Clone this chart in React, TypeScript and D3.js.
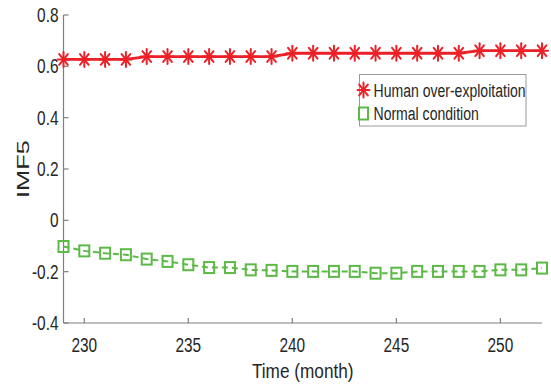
import React from "react";
import * as d3 from "d3";

// IMF5 component, months 229..252
const months = d3.range(229, 253);
const humanOverExploitation = [
  0.627, 0.627, 0.627, 0.627, 0.638, 0.638, 0.638, 0.638, 0.638, 0.638, 0.638,
  0.651, 0.651, 0.651, 0.651, 0.651, 0.651, 0.651, 0.651, 0.651, 0.661, 0.661,
  0.661, 0.661,
];
const normalCondition = [
  -0.102, -0.119, -0.128, -0.134, -0.151, -0.16, -0.173, -0.184, -0.184, -0.193,
  -0.195, -0.199, -0.199, -0.199, -0.199, -0.206, -0.206, -0.199, -0.199, -0.199,
  -0.199, -0.193, -0.193, -0.186,
];
const xTicks = [230, 235, 240, 245, 250];
const yTicks = [-0.4, -0.2, 0, 0.2, 0.4, 0.6, 0.8];
const seriesNames = ["Human over-exploitation", "Normal condition"];

const RED = "#ec2027";
const GREEN = "#5cb946";
const AXIS = "#7f7f7f";
const TEXT = "#262626";
const FONT = "'Liberation Sans', Arial, sans-serif";

const W = 551;
const H = 387;
const margin = { top: 15, right: 9, bottom: 64, left: 63.5 };

// the source picture is stretched vertically, so text is drawn narrow
const Txt = ({ x, y, size, sx, anchor, rotate = 0, children }: any) => (
  <g transform={`translate(${x},${y}) rotate(${rotate}) scale(${sx},1)`}>
    <text textAnchor={anchor} fontSize={size} fill={TEXT}>
      {children}
    </text>
  </g>
);

const Star = ({ x, y }: { x: number; y: number }) => {
  const rx = 6;
  const ry = 7.5;
  const dx = rx * 0.72;
  const dy = ry * 0.72;
  return (
    <g stroke={RED} strokeWidth={2} strokeLinecap="round">
      <line x1={x} y1={y - ry} x2={x} y2={y + ry} />
      <line x1={x - rx} y1={y} x2={x + rx} y2={y} />
      <line x1={x - dx} y1={y - dy} x2={x + dx} y2={y + dy} />
      <line x1={x - dx} y1={y + dy} x2={x + dx} y2={y - dy} />
    </g>
  );
};

const Square = ({ x, y }: { x: number; y: number }) => (
  <rect x={x - 5} y={y - 5.5} width={10} height={11} fill="none" stroke={GREEN} strokeWidth={2} />
);

export default function App() {
  const w = W - margin.left - margin.right;
  const h = H - margin.top - margin.bottom;

  const x = d3.scaleLinear().domain([229, 252]).range([0, w]);
  const y = d3.scaleLinear().domain([-0.4, 0.8]).range([h, 0]);

  const line = d3
    .line<number>()
    .x((_, i) => x(months[i]))
    .y((d) => y(d));

  return (
    <svg width={W} height={H} style={{ position: "absolute", left: 0, top: 0 }} fontFamily={FONT}>
      <rect width={W} height={H} fill="#fff" />
      <g transform={`translate(${margin.left},${margin.top})`}>
        {/* axes */}
        <line x1={0} y1={0} x2={0} y2={h} stroke={AXIS} strokeWidth={1.2} />
        <line x1={0} y1={h} x2={w} y2={h} stroke={AXIS} strokeWidth={1.2} />
        {yTicks.map((t) => (
          <g key={t}>
            <line x1={0} x2={5} y1={y(t)} y2={y(t)} stroke={AXIS} strokeWidth={1.2} />
            <Txt x={-5} y={y(t) + 7} size={19.5} sx={0.79} anchor="end">
              {t === 0 ? "0" : t.toFixed(1)}
            </Txt>
          </g>
        ))}
        {xTicks.map((t) => (
          <g key={t}>
            <line x1={x(t)} x2={x(t)} y1={h} y2={h - 5} stroke={AXIS} strokeWidth={1.2} />
            <Txt x={x(t)} y={h + 28.5} size={19.5} sx={0.79} anchor="middle">
              {t}
            </Txt>
          </g>
        ))}
        <Txt x={w / 2} y={h + 55} size={20.5} sx={0.84} anchor="middle">
          Time (month)
        </Txt>
        <Txt x={22.8 + 6.2 - margin.left} y={169 - margin.top} size={17.2} sx={1.48} anchor="middle" rotate={-90}>
          IMF5
        </Txt>

        {/* Normal condition */}
        <path d={line(normalCondition) ?? ""} fill="none" stroke={GREEN} strokeWidth={2} strokeDasharray="6,4" />
        {normalCondition.map((v, i) => (
          <Square key={i} x={x(months[i])} y={y(v)} />
        ))}

        {/* Human over-exploitation */}
        <path d={line(humanOverExploitation) ?? ""} fill="none" stroke={RED} strokeWidth={2.8} />
        {humanOverExploitation.map((v, i) => (
          <Star key={i} x={x(months[i])} y={y(v)} />
        ))}

        {/* legend */}
        <g transform={`translate(${359.5 - margin.left},${74.5 - margin.top})`}>
          <rect width={166.5} height={51.5} fill="#fff" stroke="#9a9a9a" strokeWidth={1} />
          <Star x={4} y={15.5} />
          <Txt x={14} y={22.2} size={18.6} sx={0.755} anchor="start">
            {seriesNames[0]}
          </Txt>
          <rect x={-0.5} y={33} width={9} height={12} fill="none" stroke={GREEN} strokeWidth={2} />
          <Txt x={14} y={45.5} size={18.6} sx={0.755} anchor="start">
            {seriesNames[1]}
          </Txt>
        </g>
      </g>
    </svg>
  );
}
